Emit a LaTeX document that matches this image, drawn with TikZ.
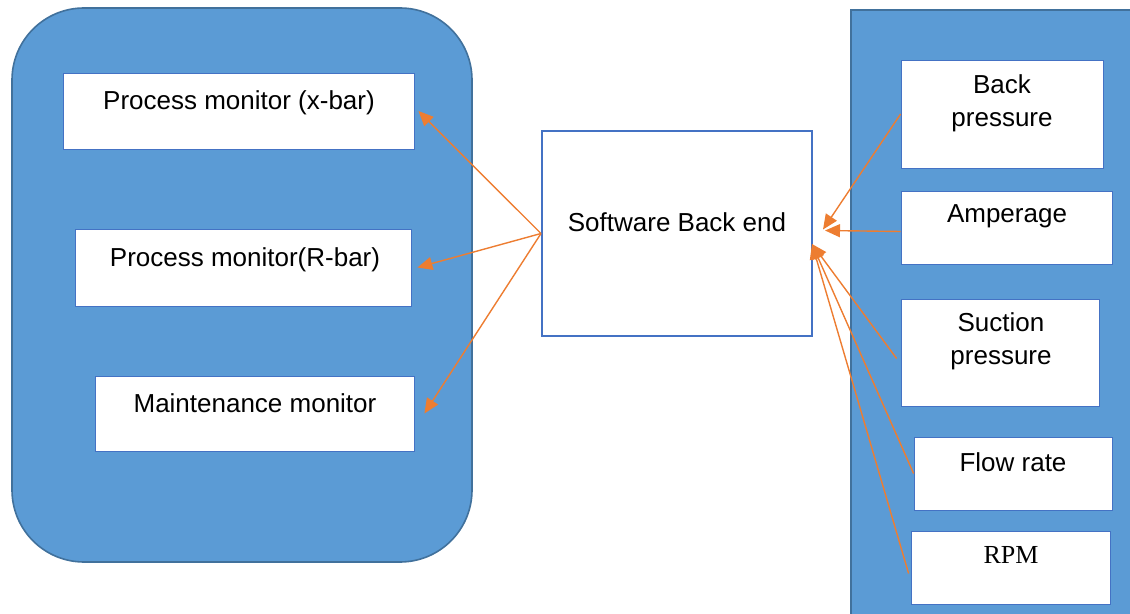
\documentclass[tikz,border=0pt]{standalone}
\usepackage{fontspec}
\setmainfont{Liberation Sans}
\newfontfamily\rpmfont{Liberation Serif}
\usetikzlibrary{positioning,arrows.meta,fit}
\definecolor{panel}{HTML}{5B9BD5}
\definecolor{panelline}{HTML}{41719C}
\definecolor{boxline}{HTML}{4472C4}
\definecolor{feed}{HTML}{ED7D31}

\begin{document}
\begin{tikzpicture}[x=0.5pt,y=-0.5pt,font=\fontsize{13}{16.5}\selectfont]
    \tikzstyle{inbox}=[draw=boxline, line width=0.4pt, fill=white, inner sep=0pt]
    \tikzstyle{txt}=[align=center, inner sep=0pt]
    \tikzstyle{flow}=[draw=feed, line width=0.7pt, -{Triangle[length=7.5pt,width=6.5pt]}]
    \useasboundingbox (0,0) rectangle (1130,614);

    % left panel
    \draw[fill=panel, draw=panelline, line width=0.8pt, rounded corners=36pt] (12,8) rectangle (472,562);
    \node[inbox, fit={(63,73) (414,149)}] (xbar) {};
    \node[inbox, fit={(75,229) (411,306)}] (rbar) {};
    \node[inbox, fit={(95,376) (414,451)}] (maint) {};
    \node[txt] at (239,103) {Process monitor (x-bar)};
    \node[txt] at (245,260) {Process monitor(R-bar)};
    \node[txt] at (255,403) {Maintenance monitor};

    % back end
    \node[draw=boxline, line width=1pt, fill=white, inner sep=0pt, fit={(542,131) (812,336)}] (soft) {};
    \node[txt] at (677,222) {Software Back end};

    % right panel
    \draw[fill=panel, draw=panelline, line width=0.8pt] (851,10) rectangle (1134,618);
    \node[inbox, fit={(901,60) (1103,168)}] (back) {};
    \node[inbox, fit={(901,191) (1112,264)}] (amp) {};
    \node[inbox, fit={(901,299) (1099,406)}] (suct) {};
    \node[inbox, fit={(914,437) (1112,510)}] (rate) {};
    \node[inbox, fit={(911,531) (1110,604)}] (rpm) {};
    \node[txt] at (1002,103) {Back\\pressure};
    \node[txt] at (1007,216) {Amperage};
    \node[txt] at (1001,341) {Suction\\pressure};
    \node[txt] at (1013,462) {Flow rate};
    \node[txt] at (1011,555) {\rpmfont RPM};

    % connectors
    \coordinate (hub) at (812,244);
    \draw[flow] (soft.west) -- ([xshift=2pt]xbar.east);
    \draw[flow] (soft.west) -- ([xshift=3pt]rbar.east);
    \draw[flow] (soft.west) -- ([xshift=5pt]maint.east);
    \draw[flow] (back.west) -- ([xshift=5pt,yshift=2pt]soft.east);
    \draw[flow] ([yshift=-2pt]amp.west) -- ([xshift=6pt,yshift=1.5pt]soft.east);
    \draw[flow] ([xshift=-2pt,yshift=-3pt]suct.west) -- (hub);
    \draw[flow] (rate.west) -- (hub);
    \draw[flow] ([xshift=-1pt,yshift=-3pt]rpm.west) -- (hub);
\end{tikzpicture}
\end{document}
